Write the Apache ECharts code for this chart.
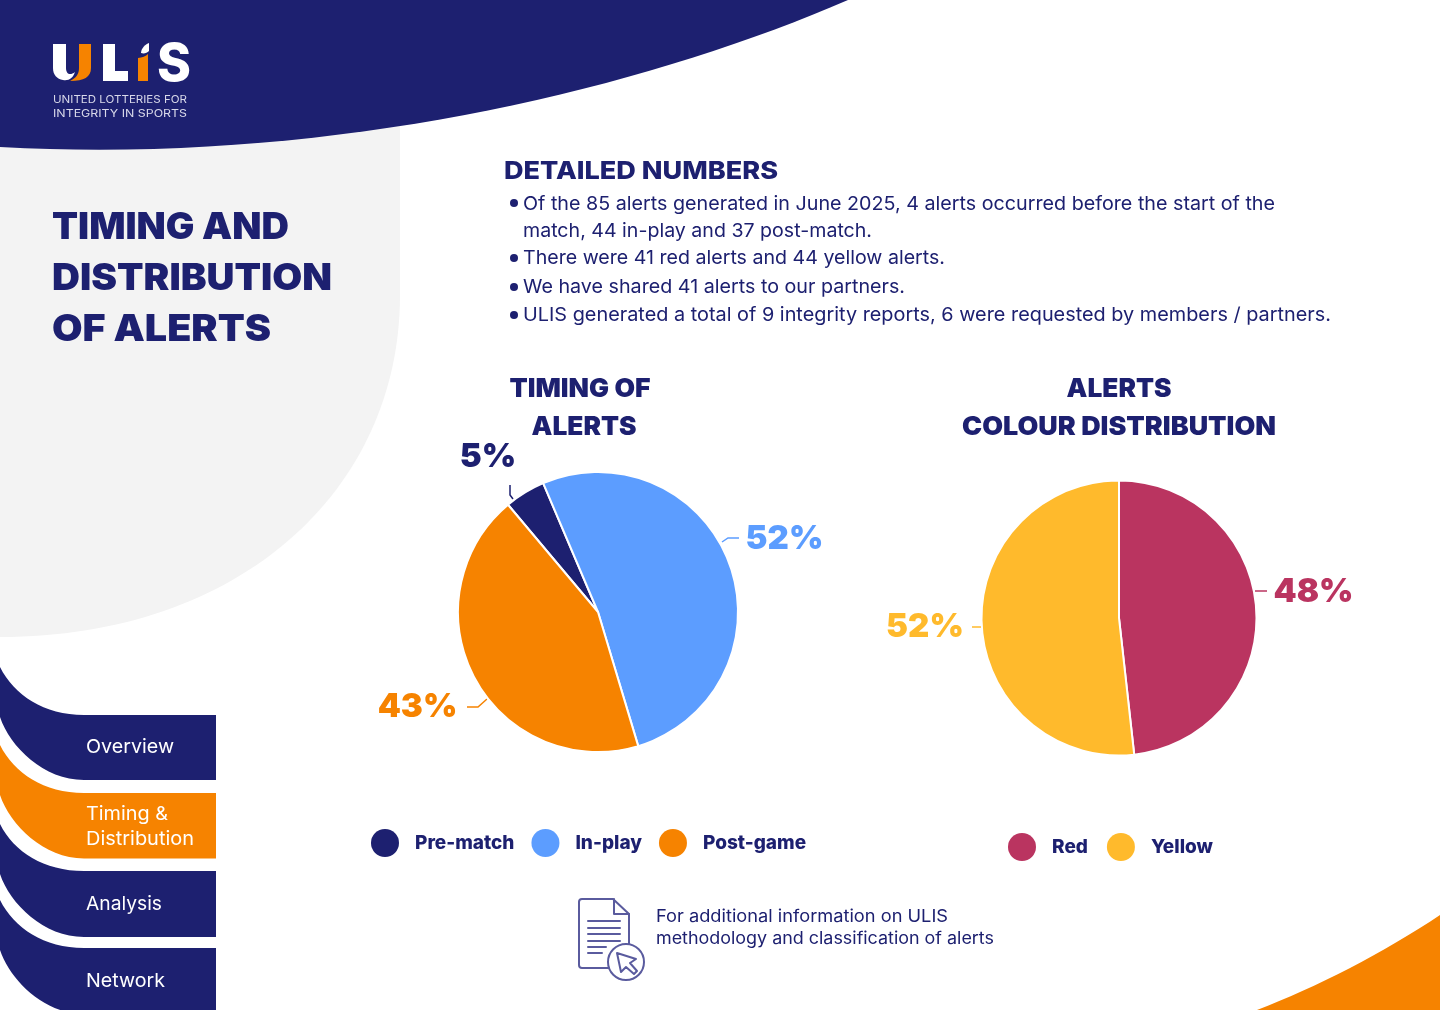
<!DOCTYPE html>
<html><head><meta charset="utf-8">
<style>html,body{margin:0;padding:0;background:#fff}#c{width:1440px;height:1010px}</style>
<script src="https://cdn.jsdelivr.net/npm/echarts@6/dist/echarts.min.js"></script>
</head><body><div id="c"></div>
<script>
const timingCategories = ['Pre-match', 'In-play', 'Post-game'];
const timingValues = [4, 44, 37];
const timingColors = ['#1d2070', '#5c9dff', '#f68300'];
const colourCategories = ['Red', 'Yellow'];
const colourValues = [41, 44];
const colourColors = ['#ba3460', '#ffba2c'];
const bulletLines = [
  'Of the 85 alerts generated in June 2025, 4 alerts occurred before the start of the',
  'match, 44 in-play and 37 post-match.',
  'There were 41 red alerts and 44 yellow alerts.',
  'We have shared 41 alerts to our partners.',
  'ULIS generated a total of 9 integrity reports, 6 were requested by members / partners.'
];

const NAVY = '#1d2070', ORANGE = '#f68300';
const BODY = 'Inter';

echarts.graphic.registerShape('deco', echarts.graphic.extendShape({
  shape: { d: '' },
  buildPath(ctx, s) {
    const t = s.d.match(/[MLCQZ]|-?[\d.]+/g) || [];
    let i = 0; const n = () => parseFloat(t[i++]);
    while (i < t.length) {
      const c = t[i++];
      if (c === 'M') ctx.moveTo(n(), n());
      else if (c === 'L') ctx.lineTo(n(), n());
      else if (c === 'C') ctx.bezierCurveTo(n(), n(), n(), n(), n(), n());
      else if (c === 'Q') ctx.quadraticCurveTo(n(), n(), n(), n());
      else if (c === 'Z') ctx.closePath();
    }
  }
}));

const meas = document.createElement('canvas').getContext('2d');
function T(text, x, y, w, size, weight, fill, anchor) {
  meas.font = weight + ' ' + size + 'px ' + BODY;
  meas.textBaseline = 'middle';
  const m = meas.measureText(text);
  const sx = w / m.width;
  const left = anchor === 'center' ? x - w / 2 : x;
  const down = meas.measureText('H').actualBoundingBoxDescent;
  return { type: 'text', x: left, y: y - down, scaleX: sx, z: 10,
    style: { text, fontFamily: BODY, fontSize: size, fontWeight: weight, fill, verticalAlign: 'middle', align: 'left' } };
}
function shape(d, fill, z, extra) {
  return { type: 'deco', z: z || 1, shape: { d }, style: Object.assign({ fill }, extra || {}) };
}
function tab(top, bottom, x0top, x0bot, fill) {
  return shape(`M0 ${x0top} C14 ${x0top+28} 44 ${top} 84 ${top} L216 ${top} L216 ${bottom} L84 ${bottom} C44 ${bottom} 10 ${x0bot+30} 0 ${x0bot} Z`, fill, 2);
}
const ICON = '#5a5b9e';
const iconStroke = { stroke: ICON, lineWidth: 2, lineJoin: 'round', lineCap: 'round' };

const graphics = [
  shape('M0 146 L0 637 C240 637 400 490 400 295 L400 100 Z', '#f3f3f3', 1),
  shape('M0 0 L848 0 C640 90 330 165 0 147 Z', NAVY, 2),
  shape('M1440 915 L1440 1010 L1257 1010 C1315 988 1385 952 1440 915 Z', ORANGE, 2),
  tab(715, 780, 667, 717, NAVY), tab(793, 858.5, 745, 795, ORANGE),
  tab(871, 937, 824, 874, NAVY), tab(948, 1014, 900, 950, NAVY),
  shape('M53 44 L66 44 L66 68 C66 74 70 76 75 72 C73 78 69 81 63 80 C57 79 53 75 53 68 Z', '#fff', 5),
  shape('M79 44 L91 44 L91 68 C91 77 84 81 70 81 C76 78 79 74 79 68 Z', ORANGE, 5),
  shape('M103 44 L115 44 L115 71 L128 71 L128 81 L103 81 Z', '#fff', 5),
  shape('M138 58 C142 57.5 146 56.5 148 54 L148 81 L138 81 Z', ORANGE, 5),
  shape('M141 53 C141 48 146 44 149 43 L149 51 C147 53 144 54 141 53 Z', '#fff', 5),
  T('S', 157, 81, 34, 52, 800, '#fff'),
  T('UNITED LOTTERIES FOR', 53, 103, 134, 10.5, 400, '#d9d9ea'),
  T('INTEGRITY IN SPORTS', 53, 116.5, 134, 10.5, 400, '#d9d9ea'),
  T('TIMING AND', 52, 239, 237, 37, 900, NAVY),
  T('DISTRIBUTION', 52, 290, 280, 37, 900, NAVY),
  T('OF ALERTS', 52, 341, 219, 37, 900, NAVY),
  T('DETAILED NUMBERS', 504, 179, 274, 25, 800, NAVY),
  T(bulletLines[0], 523, 210, 752, 19, 400, NAVY),
  T(bulletLines[1], 523, 237, 349, 19, 400, NAVY),
  T(bulletLines[2], 523, 264, 422, 19, 400, NAVY),
  T(bulletLines[3], 523, 293, 382, 19, 400, NAVY),
  T(bulletLines[4], 523, 321, 808, 19, 400, NAVY),
  T('TIMING OF', 580, 397, 141, 26, 900, NAVY, 'center'),
  T('ALERTS', 584, 435, 105, 26, 900, NAVY, 'center'),
  T('ALERTS', 1119, 397, 105, 26, 900, NAVY, 'center'),
  T('COLOUR DISTRIBUTION', 1119, 435, 314, 26, 900, NAVY, 'center'),
  T('Overview', 86, 753, 88, 19, 400, '#fff'),
  T('Timing &', 86, 820, 82, 19, 400, '#fff'),
  T('Distribution', 86, 845, 108, 19, 400, '#fff'),
  T('Analysis', 86, 910, 76, 19, 400, '#fff'),
  T('Network', 86, 987, 79, 19, 400, '#fff'),
  T('For additional information on ULIS', 656, 922, 292, 17, 400, NAVY),
  T('methodology and classification of alerts', 656, 944, 338, 17, 400, NAVY),
  shape('M613 899 L582 899 Q579 899 579 902 L579 965 Q579 968 582 968 L612 968 M613 899 L629 914 L629 946', 'none', 6, iconStroke),
  shape('M614 899 L614 914 L629 914', 'none', 6, iconStroke),
  shape('M588 921 L620 921 M588 928 L620 928 M588 934 L620 934 M588 941 L620 941 M588 947 L606 947 M588 953 L602 953', 'none', 6, iconStroke),
  { type: 'circle', z: 6, shape: { cx: 626, cy: 962, r: 18 }, style: { fill: '#fff', stroke: ICON, lineWidth: 2 } },
  shape('M617 953 L636 959 L630 963 L637 971 L634 974 L626 967 L621 972 Z', 'none', 7, iconStroke)
];
[203, 258, 287, 315].forEach(cy => graphics.push({ type: 'circle', z: 10, shape: { cx: 514, cy, r: 4 }, style: { fill: NAVY } }));

const labelSpots = [
  [
    { x: 488, y: 457, line: [[513, 499], [510, 495], [510, 485]] },
    { x: 784.5, y: 539, line: [[722, 542], [728, 538], [739, 538]] },
    { x: 417.5, y: 707, line: [[487, 699], [478, 707], [467, 707]] }
  ],
  [
    { x: 1313.5, y: 592, line: [[1255, 591], [1261, 591], [1267, 591]] },
    { x: 925, y: 627, line: [[981, 627], [976, 627], [972, 627]] }
  ]
];
function pie(cats, vals, colors, center, radius, startAngle) {
  return { type: 'pie', center, radius, startAngle, clockwise: true, percentPrecision: 0, animation: false, silent: true,
    data: cats.map((name, i) => ({ name, value: vals[i], itemStyle: { color: colors[i] }, label: { color: colors[i] }, labelLine: { lineStyle: { color: colors[i], width: 1.5 } } })),
    itemStyle: { borderColor: '#fff', borderWidth: 2 },
    label: { show: true, formatter: '{d}%', fontFamily: BODY, fontWeight: 900, fontSize: 33 },
    labelLine: { show: true, length: 10, length2: 10, smooth: false },
    labelLayout: p => { const s = labelSpots[p.seriesIndex][p.dataIndex]; return { x: s.x, y: s.y, align: 'center', verticalAlign: 'middle', labelLinePoints: s.line }; }
  };
}
const legendText = { color: NAVY, fontFamily: BODY, fontWeight: 800, fontSize: 19, padding: [0, 0, 0, 11] };
const noBorder = { borderWidth: 0 };
const option = {
  backgroundColor: '#fff',
  animation: false,
  graphic: { elements: graphics },
  legend: [
    { data: timingCategories, left: 371, top: 829, orient: 'horizontal', icon: 'circle', itemWidth: 28, itemHeight: 28, itemGap: 17, selectedMode: false, textStyle: legendText, itemStyle: noBorder, padding: 0 },
    { data: colourCategories, left: 1008, top: 833, orient: 'horizontal', icon: 'circle', itemWidth: 28, itemHeight: 28, itemGap: 19, selectedMode: false, textStyle: legendText, itemStyle: noBorder, padding: 0 }
  ],
  series: [
    pie(timingCategories, timingValues, timingColors, [598, 612], 140, 130),
    pie(colourCategories, colourValues, colourColors, [1119, 618], 137.5, 90)
  ]
};
const chart = echarts.init(document.getElementById('c'), null, { renderer: 'canvas', width: 1440, height: 1010 });
chart.setOption(option);
</script></body></html>
